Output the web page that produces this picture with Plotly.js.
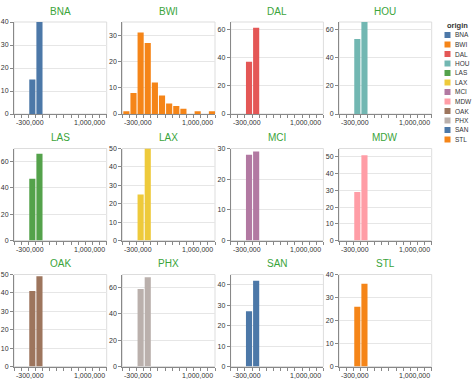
<!DOCTYPE html>
<html>
<head>
<meta charset="utf-8">
<script src="https://cdn.plot.ly/plotly-3.0.1.min.js"></script>
<style>html,body{margin:0;padding:0;background:#fff;}#chart{width:474px;height:379px;}</style>
</head>
<body>
<div id="chart"></div>
<script>
// ---- data ----
const origins = ['BNA','BWI','DAL','HOU','LAS','LAX','MCI','MDW','OAK','PHX','SAN','STL'];
const binStarts = [-300000,-200000,-100000,0,100000,200000,300000,400000,500000,600000,700000,800000,900000];
const countsBNA = [0,0,15,40,0,0,0,0,0,0,0,0,0];
const countsBWI = [1,8,31,27,12,7,4,3,2,0,1,0,1];
const countsDAL = [0,0,37,61,0,0,0,0,0,0,0,0,0];
const countsHOU = [0,0,53,65,0,0,0,0,0,0,0,0,0];
const countsLAS = [0,0,47,66,0,0,0,0,0,0,0,0,0];
const countsLAX = [0,0,25,50,0,0,0,0,0,0,0,0,0];
const countsMCI = [0,0,28,29,0,0,0,0,0,0,0,0,0];
const countsMDW = [0,0,29,51,0,0,0,0,0,0,0,0,0];
const countsOAK = [0,0,41,49,0,0,0,0,0,0,0,0,0];
const countsPHX = [0,0,59,68,0,0,0,0,0,0,0,0,0];
const countsSAN = [0,0,27,42,0,0,0,0,0,0,0,0,0];
const countsSTL = [0,0,26,36,0,0,0,0,0,0,0,0,0];
const xTickLabels = ['-300,000','1,000,000'];
const legendTitle = 'origin';

const countsByOrigin = {BNA:countsBNA,BWI:countsBWI,DAL:countsDAL,HOU:countsHOU,LAS:countsLAS,LAX:countsLAX,
  MCI:countsMCI,MDW:countsMDW,OAK:countsOAK,PHX:countsPHX,SAN:countsSAN,STL:countsSTL};

// ---- styles ----
const palette = ['#4c78a8','#f58518','#e45756','#72b7b2','#54a24b','#eeca3b','#b279a2','#ff9da6','#9d755d','#bab0ac'];
const FONT = 'Liberation Sans, Arial, sans-serif';
const W = 474, H = 379;
const colX = [14, 122.3, 230.7, 339];
const rowTop = [22, 148.5, 274.5];
const pw = 92.7, ph = 92;
const binWidth = 100000;
const binGapUnits = binWidth * 1 / (pw / 13); // ~1px spacing

const data = [];
const layout = {
  width: W, height: H,
  margin: {l:0, r:0, t:0, b:0},
  paper_bgcolor: '#fff', plot_bgcolor: '#fff',
  showlegend: false,
  font: {family: FONT, size: 7, color: '#333'},
  shapes: [], annotations: []
};

origins.forEach((o, i) => {
  const n = i + 1;
  const sfx = n > 1 ? String(n) : '';
  const r = Math.floor(i / 4), c = i % 4;
  const color = palette[i % palette.length];
  const counts = countsByOrigin[o];
  const xs = [], ys = [];
  counts.forEach((v, k) => { if (v > 0) { xs.push(binStarts[k]); ys.push(v); } });
  data.push({
    type: 'bar', x: xs, y: ys,
    width: binWidth - binGapUnits, offset: binGapUnits,
    marker: {color: color, line: {width: 0}},
    xaxis: 'x' + sfx, yaxis: 'y' + sfx, hoverinfo: 'skip'
  });
  const maxV = Math.max(...counts);
  const yMax = Math.ceil(maxV / 5) * 5;
  const yStep = yMax <= 55 ? 10 : 20;
  const x0 = colX[c], y0 = rowTop[r];
  const xTicks = [];
  for (let v = binStarts[0]; v <= binStarts[binStarts.length-1] + binWidth; v += binWidth) xTicks.push(v);
  layout['xaxis' + sfx] = {
    domain: [x0 / W, (x0 + pw) / W],
    anchor: 'y' + sfx,
    range: [binStarts[0], binStarts[binStarts.length-1] + binWidth],
    tickmode: 'array', tickvals: xTicks, showticklabels: false,
    ticks: 'outside', ticklen: 3, tickcolor: '#888', tickwidth: 1,
    showline: true, linecolor: '#888', linewidth: 1,
    showgrid: false, zeroline: false, fixedrange: true
  };
  layout['yaxis' + sfx] = {
    domain: [1 - (y0 + ph) / H, 1 - y0 / H],
    anchor: 'x' + sfx,
    range: [0, yMax],
    tickmode: 'linear', tick0: 0, dtick: yStep,
    ticks: 'outside', ticklen: 3, tickcolor: '#888', tickwidth: 1,
    showline: true, linecolor: '#888', linewidth: 1,
    showgrid: true, gridcolor: '#e6e6e6', gridwidth: 1,
    zeroline: false, fixedrange: true,
    tickfont: {family: FONT, size: 7, color: '#333'}
  };
  // view border
  layout.shapes.push({type:'rect', xref:'x' + sfx + ' domain', yref:'y' + sfx + ' domain',
    x0:0, x1:1, y0:0, y1:1, line:{color:'#ddd', width:1}, layer:'below'});
  // facet title
  layout.annotations.push({xref:'x' + sfx + ' domain', yref:'y' + sfx + ' domain', x:0.5, y:1,
    xanchor:'center', yanchor:'middle', yshift:11, showarrow:false, text:o,
    font:{family:FONT, size:10, color:'#3aa43a'}});
  // flush x tick labels
  layout.annotations.push({xref:'x' + sfx, yref:'y' + sfx + ' domain', x:binStarts[0], y:0,
    xanchor:'left', yanchor:'top', yshift:-3, showarrow:false, text:xTickLabels[0],
    font:{family:FONT, size:7, color:'#333'}});
  layout.annotations.push({xref:'x' + sfx, yref:'y' + sfx + ' domain', x:binStarts[binStarts.length-1] + binWidth, y:0,
    xanchor:'right', yanchor:'top', yshift:-3, showarrow:false, text:xTickLabels[1],
    font:{family:FONT, size:7, color:'#333'}});
});

// legend (drawn manually)
const lgX = 444.5, lgY0 = 25, lgStep = 9.5, sq = 6;
layout.annotations.push({xref:'paper', yref:'paper', x:lgX / W, y:1 - lgY0 / H, xanchor:'left', yanchor:'middle',
  showarrow:false, text:'<b>' + legendTitle + '</b>', font:{family:FONT, size:7.5, color:'#333'}});
origins.forEach((o, i) => {
  const cy = lgY0 + 10 + i * lgStep;
  layout.shapes.push({type:'rect', xref:'paper', yref:'paper',
    x0:lgX / W, x1:(lgX + sq) / W, y0:1 - (cy + sq/2) / H, y1:1 - (cy - sq/2) / H,
    fillcolor: palette[i % palette.length], line:{width:0}});
  layout.annotations.push({xref:'paper', yref:'paper', x:(lgX + sq + 2) / W, y:1 - cy / H,
    xanchor:'left', yanchor:'middle', showarrow:false, text:o, font:{family:FONT, size:6.5, color:'#333'}});
});

Plotly.newPlot('chart', data, layout, {staticPlot:true, displayModeBar:false});
</script>
</body>
</html>
